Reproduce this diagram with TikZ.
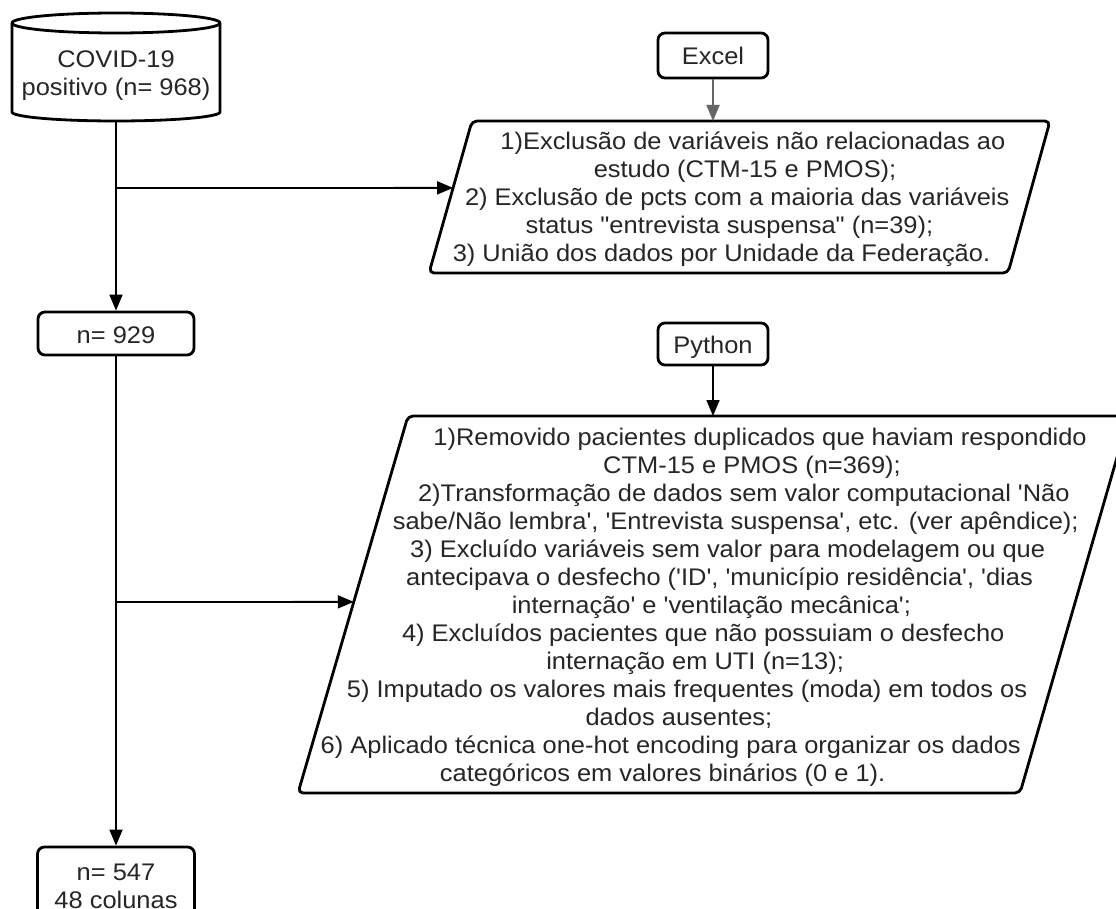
\documentclass[tikz,border=0pt]{standalone}
\usepackage{fontspec}
\newfontfamily\diagfont{Liberation Sans}[FakeStretch=1.06]
\usetikzlibrary{arrows.meta,calc}
\definecolor{textgray}{HTML}{262626}
\definecolor{arrowgray}{HTML}{666666}
\begin{document}
\begin{tikzpicture}[x=1pt,y=-1pt,
  every node/.style={font=\diagfont\fontsize{24}{28}\selectfont, text=textgray},
  tagbox/.style={draw=black, line width=2.8pt, rounded corners=7pt, inner sep=0pt,
    text height=19pt, text depth=0pt},
  slab/.style={draw=black, line width=2.8pt, rounded corners=5pt, line join=round},
  link/.style={draw=black, line width=1.8pt, -{Triangle[length=16pt,width=13pt]}},
  plain/.style={draw=black, line width=1.8pt}]

\fill[white] (0,0) rectangle (1116,909);
\useasboundingbox (0,0) rectangle (1116,909);

% data source: cylinder
\node[align=center, inner sep=0pt] (covid) at (116,76) {COVID-19\\positivo (n= 968)};
\draw[slab, rounded corners=0pt] (12,23) -- (12,112)
  arc[start angle=180, end angle=0, x radius=104, y radius=9] -- (220,23);
\draw[slab, rounded corners=0pt] (116,23) ellipse[x radius=104, y radius=10];
\coordinate (covidbase) at (116,121);

% patient counts
\node[tagbox, minimum width=156, minimum height=43] (n929) at (116,333.5) {n= 929};
\node[tagbox, minimum width=157, minimum height=78, align=center, text height=, text depth=]
  (n547) at (116,886) {n= 547\\48 colunas};

% tool labels
\node[tagbox, minimum width=110, minimum height=45] (excel) at (713,55.5) {Excel};
\node[tagbox, minimum width=110, minimum height=42] (python) at (713,344) {Python};

% Excel step
\coordinate (etl) at (472,121);
\coordinate (etr) at (1050,121);
\coordinate (ebr) at (1008,273);
\coordinate (ebl) at (429,273);
\draw[slab] (etl) -- (etr) -- (ebr) -- (ebl) -- cycle;
\coordinate (exin) at ($(etl)!0.44!(ebl)$);
\coordinate (extop) at (713,121);
\foreach \txt [count=\i from 0] in {
  {1)Exclusão de variáveis não relacionadas ao},
  {estudo (CTM-15 e PMOS);},
  {2) Exclusão de pcts com a maioria das variáveis},
  {status "entrevista suspensa" (n=39);},
  {3) União dos dados por Unidade da Federação.}} {
  \pgfmathsetmacro\yy{150+28*\i}
  \pgfmathsetmacro\xx{761-0.28*(\yy-121)}
  \node[anchor=base, inner sep=0pt] (ex\i) at (\xx,\yy) {\txt};
}

% Python step
\coordinate (ptl) at (408,416);
\coordinate (ptr) at (1129,416);
\coordinate (pbr) at (1020,793);
\coordinate (pbl) at (298,793);
\draw[slab] (ptl) -- (ptr) -- (pbr) -- (pbl) -- cycle;
\coordinate (pyin) at ($(ptl)!0.493!(pbl)$);
\coordinate (pytop) at (713,416);
\foreach \txt [count=\i from 0] in {
  {1)Removido pacientes duplicados que haviam respondido},
  {CTM-15 e PMOS (n=369);},
  {2)Transformação de dados sem valor computacional 'Não},
  {sabe/Não lembra', 'Entrevista suspensa', etc. (ver apêndice);},
  {3) Excluído variáveis sem valor para modelagem ou que},
  {antecipava o desfecho ('ID', 'município residência', 'dias},
  {internação' e 'ventilação mecânica';},
  {4) Excluídos pacientes que não possuiam o desfecho},
  {internação em UTI (n=13);},
  {5) Imputado os valores mais frequentes (moda) em todos os},
  {dados ausentes;},
  {6) Aplicado técnica one-hot encoding para organizar os dados},
  {categóricos em valores binários (0 e 1).}} {
  \pgfmathsetmacro\yy{445+28*\i}
  \pgfmathsetmacro\xx{768.5-0.29*(\yy-416)}
  \node[anchor=base, inner sep=0pt] (py\i) at (\xx,\yy) {\txt};
}

% main flow
\coordinate (j1) at (116,188);
\coordinate (j2) at (116,602);
\draw[link] (covidbase) -- (n929.north);
\draw[link] (n929.south) -- (n547.north);
\draw[link] (j1) -- (exin);
\draw[link] (j2) -- (pyin);
\draw[link, draw=arrowgray, fill=arrowgray] (excel.south) -- (extop);
\draw[link] (python.south) -- (pytop);
\end{tikzpicture}
\end{document}
